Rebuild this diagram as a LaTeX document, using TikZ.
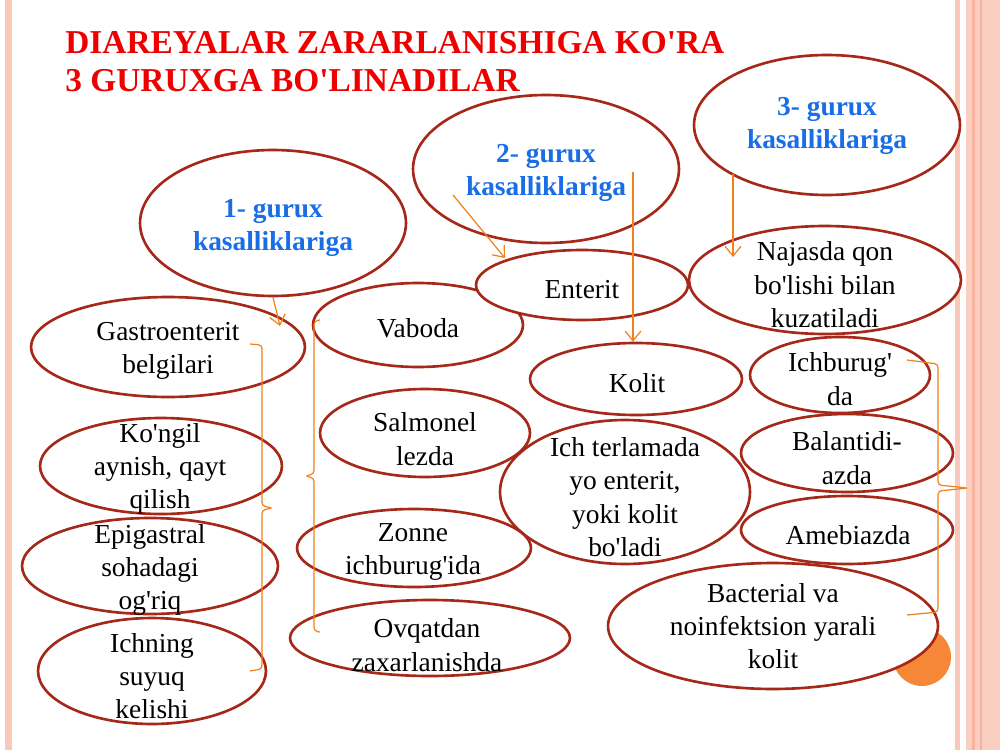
\documentclass[tikz,border=0pt]{standalone}
\usepackage{fontspec}
\setmainfont{Liberation Serif}
\usepackage{xcolor}
\usetikzlibrary{shapes.geometric,arrows.meta}

\definecolor{ovalred}{RGB}{165,40,25}
\definecolor{lineor}{RGB}{240,130,30}
\definecolor{grpblue}{RGB}{25,110,230}
\definecolor{titlered}{RGB}{238,0,0}
\definecolor{stripe}{RGB}{250,200,185}
\definecolor{stripedk}{RGB}{246,180,160}
\definecolor{dotor}{RGB}{245,135,55}

\newcommand{\apos}{\textquotesingle}

\tikzset{
  oval/.style={draw=ovalred, line width=1.5pt, ellipse, fill=white, inner sep=0pt},
  txt/.style={align=center, inner sep=0pt, font=\rmfamily\fontsize{15.6}{19}\selectfont},
  grp/.style={txt, text=grpblue, font=\rmfamily\bfseries\fontsize{15.6}{19}\selectfont},
  conn/.style={draw=lineor, line width=0.7pt, -{Straight Barb[length=5.5pt,width=9pt]}},
  brace/.style={draw=lineor, line width=0.7pt, rounded corners=2pt},
}

\begin{document}
\begin{tikzpicture}[x=0.02cm, y=-0.02cm]

\fill[white] (0,0) rectangle (1000,750);
\useasboundingbox (0,0) rectangle (1000,750);

% side stripes
\fill[stripe] (5,0) rectangle (12,750);
\fill[stripe] (955,0) rectangle (960,750);
\fill[stripe!90] (966,0) rectangle (1000,750);
\fill[stripedk] (972,0) rectangle (975,750);
\fill[stripedk] (980,0) rectangle (982,750);
\fill[dotor] (922,657) circle (29);

% title
\node[anchor=west, inner sep=0pt, align=left, text=titlered,
  font=\rmfamily\bfseries\fontsize{19}{21.5}\selectfont] (title) at (65,62)
  {DIAREYALAR ZARARLANISHIGA KO\apos RA\\3 GURUXGA BO\apos LINADILAR};

% groups
\node[oval, minimum width=5.32cm, minimum height=2.92cm] (g1) at (273,223) {};
\node[oval, minimum width=5.32cm, minimum height=2.96cm] (g2) at (546,169) {};
\node[oval, minimum width=5.32cm, minimum height=2.80cm] (g3) at (827,125) {};

\node[oval, minimum width=5.48cm, minimum height=2.00cm] (gas) at (168,347) {};
\node[oval, minimum width=4.20cm, minimum height=1.68cm] (vab) at (418,325) {};
\node[oval, minimum width=4.24cm, minimum height=1.40cm] (ent) at (582,285) {};
\node[oval, minimum width=5.44cm, minimum height=2.16cm] (naj) at (825,280) {};
\node[oval, minimum width=4.24cm, minimum height=1.44cm] (kol) at (636,379) {};
\node[oval, minimum width=3.60cm, minimum height=1.52cm] (ichb) at (840,375) {};
\node[oval, minimum width=4.20cm, minimum height=1.76cm] (sal) at (425,433) {};
\node[oval, minimum width=4.84cm, minimum height=1.92cm] (kon) at (161,466) {};
\node[oval, minimum width=5.00cm, minimum height=2.88cm] (itl) at (625,492) {};
\node[oval, minimum width=4.24cm, minimum height=1.56cm] (bal) at (847,453) {};
\node[oval, minimum width=5.12cm, minimum height=1.92cm] (epi) at (150,566) {};
\node[oval, minimum width=4.68cm, minimum height=1.56cm] (zon) at (414,548) {};
\node[oval, minimum width=4.24cm, minimum height=1.36cm] (ame) at (847,530) {};
\node[oval, minimum width=6.60cm, minimum height=2.52cm] (bac) at (773,626) {};
\node[oval, minimum width=5.60cm, minimum height=1.52cm] (ovq) at (430,638) {};
\node[oval, minimum width=4.56cm, minimum height=2.12cm] (ich) at (152,671) {};

% texts
\node[grp] (g1t) at (273,228) {1- gurux\\kasalliklariga};
\node[grp] (g2t) at (546,173) {2- gurux\\kasalliklariga};
\node[grp] (g3t) at (827,126) {3- gurux\\kasalliklariga};

\node[txt] (gast) at (168,351) {Gastroenterit\\belgilari};
\node[txt] (vabt) at (418,328) {Vaboda};
\node[txt] (entt) at (582,290) {Enterit};
\node[txt] (najt) at (825,285) {Najasda qon\\bo\apos lishi bilan\\kuzatiladi};
\node[txt] (kolt) at (637,383) {Kolit};
\node[txt] (ichbt) at (840,379) {Ichburug\apos\\da};
\node[txt] (salt) at (425,439) {Salmonel\\lezda};
\node[txt] (kont) at (160,469) {Ko\apos ngil\\aynish, qayt\\qilish};
\node[txt] (itlt) at (625,497) {Ich terlamada\\yo enterit,\\yoki kolit\\bo\apos ladi};
\node[txt] (balt) at (847,458) {Balantidi-\\azda};
\node[txt] (epit) at (150,570) {Epigastral\\sohadagi\\og\apos riq};
\node[txt] (zont) at (413,552) {Zonne\\ichburug\apos ida};
\node[txt] (amet) at (848,535) {Amebiazda};
\node[txt] (bact) at (773,626) {Bacterial va\\noinfektsion yarali\\kolit};
\node[txt] (ovqt) at (427,645) {Ovqatdan\\zaxarlanishda};
\node[txt] (icht) at (152,676) {Ichning\\suyuq\\kelishi};

% arrows
\coordinate (a1e) at (280,326);
\coordinate (a2s) at (453,195);
\coordinate (a2e) at (505,258);
\coordinate (a3s) at (633,172);
\coordinate (a4s) at (733,174);
\coordinate (a4e) at (733,257);
\draw[conn] (g1.south) -- (a1e);
\draw[conn] (a2s) -- (a2e);
\draw[conn] (a3s) -- (a3s |- kol.north);
\draw[conn] (a4s) -- (a4e);

% braces
\draw[brace] (250,344) -- (262,345) -- (262,506) -- (273,508) -- (262,510) -- (262,669) -- (250,671);
\draw[brace] (320,320) -- (314,321) -- (314,474) -- (305,476) -- (314,478) -- (314,631) -- (320,632);
\draw[brace] (907,360) -- (938,364) -- (938,485) -- (968,488) -- (938,491) -- (938,612) -- (907,615);

\end{tikzpicture}
\end{document}
